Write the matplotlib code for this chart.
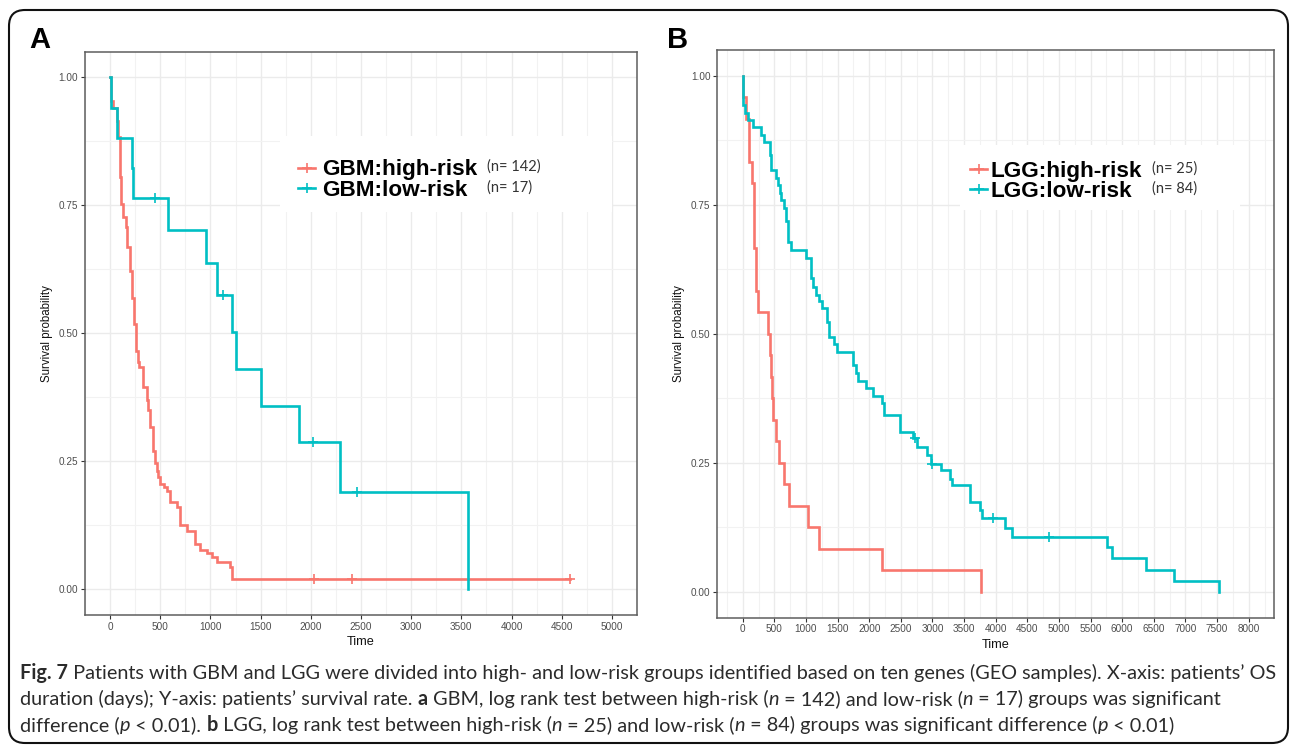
import matplotlib
matplotlib.use("Agg")
import numpy as np
import matplotlib.pyplot as plt
from matplotlib.lines import Line2D
from matplotlib.patches import FancyBboxPatch, Rectangle
from matplotlib.transforms import IdentityTransform
from matplotlib.font_manager import FontProperties

# ---------------- data ----------------
# Panel A: GBM
gbm_high_time = [0, 13, 33, 67, 80, 100, 113, 133, 157, 173, 200, 217, 240, 263, 283,
                 293, 332, 365, 375, 398, 432, 451, 465, 474, 498, 541, 565, 598, 664,
                 697, 764, 847, 896, 963, 1013, 1063, 1195, 1218, 4582]
gbm_high_surv = [1.000, 0.954, 0.941, 0.915, 0.883, 0.805, 0.753, 0.727, 0.707, 0.668,
                 0.622, 0.570, 0.518, 0.466, 0.445, 0.435, 0.395, 0.369, 0.350, 0.317,
                 0.271, 0.246, 0.232, 0.220, 0.206, 0.200, 0.193, 0.171, 0.161, 0.125,
                 0.115, 0.089, 0.076, 0.071, 0.063, 0.053, 0.043, 0.021, 0.021]
gbm_high_censor = [2028, 2406, 4582]

gbm_low_time = [0, 7, 67, 220, 226, 574, 956, 1062, 1211, 1255, 1504, 1879, 2294, 3569]
gbm_low_surv = [1.000, 0.941, 0.882, 0.823, 0.765, 0.701, 0.637, 0.574, 0.502, 0.430,
                0.359, 0.287, 0.191, 0.000]
gbm_low_censor = [451, 1122, 2025, 2460]

# Panel B: LGG
lgg_high_time = [0, 10, 50, 106, 143, 175, 185, 212, 249, 397, 424, 440, 466, 484, 527,
                 579, 653, 732, 1028, 1206, 2198, 3768]
lgg_high_surv = [1.000, 0.958, 0.917, 0.833, 0.792, 0.750, 0.667, 0.583, 0.542, 0.500,
                 0.458, 0.417, 0.375, 0.333, 0.292, 0.250, 0.208, 0.167, 0.125, 0.083,
                 0.042, 0.000]
lgg_high_censor = []

lgg_low_time = [0, 11, 37, 79, 159, 291, 344, 424, 450, 530, 556, 583, 609, 646, 678,
                715, 768, 1006, 1075, 1112, 1165, 1202, 1255, 1329, 1370, 1450, 1485,
                1750, 1785, 1830, 1950, 2060, 2210, 2235, 2489, 2690, 2753, 2911, 2980,
                3138, 3280, 3307, 3586, 3745, 3782, 4144, 4250, 5767, 5836, 6375, 6813,
                7537]
lgg_low_surv = [1.000, 0.944, 0.927, 0.915, 0.901, 0.885, 0.872, 0.846, 0.817, 0.801,
                0.788, 0.772, 0.759, 0.743, 0.718, 0.678, 0.663, 0.647, 0.607, 0.591,
                0.575, 0.563, 0.549, 0.523, 0.494, 0.481, 0.465, 0.439, 0.423, 0.408,
                0.394, 0.379, 0.365, 0.342, 0.310, 0.297, 0.281, 0.265, 0.248, 0.235,
                0.219, 0.206, 0.174, 0.158, 0.142, 0.124, 0.106, 0.086, 0.065, 0.043,
                0.021, 0.000]
lgg_low_censor = [2727, 2995, 3955, 4847]

gbm_labels = ["GBM:high-risk", "GBM:low-risk"]
gbm_counts = ["(n= 142)", "(n= 17)"]
lgg_labels = ["LGG:high-risk", "LGG:low-risk"]
lgg_counts = ["(n= 25)", "(n= 84)"]

y_ticks = [0.0, 0.25, 0.5, 0.75, 1.0]
y_ticklabels = ["0.00", "0.25", "0.50", "0.75", "1.00"]
gbm_xticks = list(range(0, 5001, 500))
lgg_xticks = list(range(0, 8001, 500))

caption_lines = [
    [("Fig. 7", "b"),
     (" Patients with GBM and LGG were divided into high- and low-risk groups identified "
      "based on ten genes (GEO samples). X-axis: patients\u2019 OS", "r")],
    [("duration (days); Y-axis: patients\u2019 survival rate. ", "r"), ("a", "b"),
     (" GBM, log rank test between high-risk (", "r"), ("n", "i"),
     (" = 142) and low-risk (", "r"), ("n", "i"), (" = 17) groups was significant", "r")],
    [("difference (", "r"), ("p", "i"), (" < 0.01). ", "r"), ("b", "b"),
     (" LGG, log rank test between high-risk (", "r"), ("n", "i"),
     (" = 25) and low-risk (", "r"), ("n", "i"),
     (" = 84) groups was significant difference (", "r"), ("p", "i"), (" < 0.01)", "r")],
]

# ---------------- styling ----------------
RED = "#F8766D"
TEAL = "#00BFC4"
W, H = 1292, 749
AX_FONT = "Liberation Sans"
CAP_FONT = "Lato"

fig = plt.figure(figsize=(W / 100, H / 100), dpi=100)
fig.patch.set_facecolor("white")


def fx(x):
    return x / W


def fy(y):
    return 1 - y / H


def step_value(times, surv, t):
    idx = np.searchsorted(np.asarray(times), t, side="right") - 1
    return np.asarray(surv)[idx]


def km_curve(ax, times, surv, censor, color):
    ax.plot(times, surv, drawstyle="steps-post", color=color, lw=1.9,
            solid_joinstyle="miter", zorder=4)
    if censor:
        cs = [step_value(times, surv, c) for c in censor]
        ax.plot(censor, cs, ls="none", marker="+", ms=6.5, mew=1.2, color=color, zorder=5)


def setup_axes(rect_px, xlim, xticks):
    l, t, r, b = rect_px
    ax = fig.add_axes([fx(l), fy(b), (r - l) / W, (b - t) / H])
    ax.set_xticks(xticks)
    step = xticks[1] - xticks[0]
    minor_x = np.arange(xticks[0] - step / 2, xticks[-1] + step, step)
    ax.set_xticks(minor_x[(minor_x >= xlim[0]) & (minor_x <= xlim[1])], minor=True)
    ax.set_yticks(y_ticks)
    ax.set_yticklabels(y_ticklabels)
    ax.set_yticks([0.125, 0.375, 0.625, 0.875], minor=True)
    ax.set_xlim(*xlim)
    ax.set_ylim(-0.05, 1.05)
    ax.grid(which="major", color="#EBEBEB", lw=1.0, zorder=0)
    ax.grid(which="minor", color="#F2F2F2", lw=0.8, zorder=0)
    ax.set_axisbelow(True)
    ax.tick_params(which="major", length=3, width=0.8, color="#333333",
                   labelcolor="#4D4D4D", labelsize=7.2, pad=2)
    ax.tick_params(which="minor", length=0)
    for lab in ax.get_xticklabels() + ax.get_yticklabels():
        lab.set_family(AX_FONT)
    for sp in ax.spines.values():
        sp.set_color("#5E5E5E")
        sp.set_linewidth(1.1)
    ax.set_xlabel("Time", family=AX_FONT, fontsize=9.2, color="#111111", labelpad=3)
    ax.set_ylabel("Survival probability", family=AX_FONT, fontsize=8.3,
                  color="#111111", labelpad=4)
    return ax


axA = setup_axes((85, 51.7, 637, 615), (-250, 5250), gbm_xticks)
axB = setup_axes((717.4, 49.9, 1274, 617.5), (-400, 8400), lgg_xticks)

km_curve(axA, gbm_high_time, gbm_high_surv, gbm_high_censor, RED)
km_curve(axA, gbm_low_time, gbm_low_surv, gbm_low_censor, TEAL)
km_curve(axB, lgg_high_time, lgg_high_surv, lgg_high_censor, RED)
km_curve(axB, lgg_low_time, lgg_low_surv, lgg_low_censor, TEAL)


# ---------------- legends ----------------
def legend_block(box, key_x, text_x, count_x, rows_y, labels, counts):
    bl, bt, br, bb = box
    fig.add_artist(Rectangle((fx(bl), fy(bb)), (br - bl) / W, (bb - bt) / H,
                             transform=fig.transFigure, facecolor="white",
                             edgecolor="none", zorder=3))
    for y, lab, cnt, col in zip(rows_y, labels, counts, [RED, TEAL]):
        fig.add_artist(Line2D([fx(key_x[0]), fx(key_x[1])], [fy(y), fy(y)],
                              transform=fig.transFigure, color=col, lw=1.9, zorder=4))
        mid = (key_x[0] + key_x[1]) / 2
        fig.add_artist(Line2D([fx(mid)], [fy(y)], transform=fig.transFigure,
                              ls="none", marker="+", ms=6.5, mew=1.2, color=col, zorder=4))
        fig.text(fx(text_x), fy(y + 8.0), lab, family=AX_FONT, fontweight="bold",
                 fontsize=16.2, color="black", va="baseline", ha="left", zorder=5)
        fig.text(fx(count_x), fy(y + 3.5), cnt, family=CAP_FONT, fontsize=10.5,
                 color="#333333", va="baseline", ha="left", zorder=5)


legend_block((280, 136, 612, 212), (298, 315), 322, 487, [167.5, 188],
             gbm_labels, gbm_counts)
legend_block((960, 145, 1240, 210), (970, 987), 990, 1152, [169, 189],
             lgg_labels, lgg_counts)

# panel letters
fig.text(fx(29), fy(48), "A", family=AX_FONT, fontweight="bold", fontsize=21,
         va="baseline", ha="left")
fig.text(fx(667), fy(48), "B", family=AX_FONT, fontweight="bold", fontsize=21,
         va="baseline", ha="left")

# outer rounded frame
frame = FancyBboxPatch((9, 749 - 743), 1279, 733,
                       boxstyle="round,pad=0,rounding_size=16",
                       transform=IdentityTransform(), facecolor="none",
                       edgecolor="#111111", lw=1.5, zorder=10)
fig.add_artist(frame)

# ---------------- caption ----------------
renderer = fig.canvas.get_renderer()


def run_props(style, size):
    fp = FontProperties(family=CAP_FONT, size=size)
    if style == "b":
        fp.set_weight("bold")
    elif style == "i":
        fp.set_style("italic")
    return fp


def run_width(s, fp):
    w1, _, _ = renderer.get_text_width_height_descent("|" + s + "|", fp, ismath=False)
    w0, _, _ = renderer.get_text_width_height_descent("||", fp, ismath=False)
    return w1 - w0


base = 12.0
w_line1 = sum(run_width(s, run_props(st, base)) for s, st in caption_lines[0])
cap_size = base * (1256 / w_line1)

for line, y in zip(caption_lines, [679, 705, 731]):
    x = 20
    for s, st in line:
        fp = run_props(st, cap_size)
        fig.text(fx(x), fy(y), s, fontproperties=fp, color="#2B2B2B",
                 va="baseline", ha="left")
        x += run_width(s, fp)

fig.savefig("out.png", dpi=100, facecolor="white")
